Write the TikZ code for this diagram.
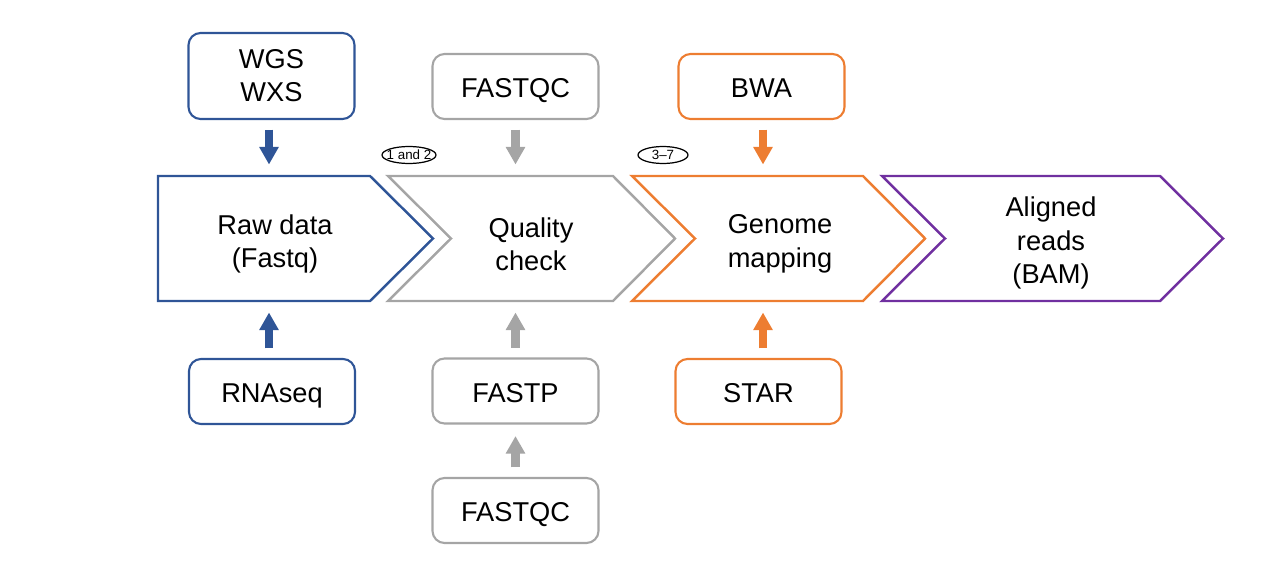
\documentclass[tikz,border=0pt]{standalone}
\usepackage{fontspec}
\setmainfont{Liberation Sans}
\usetikzlibrary{arrows.meta,positioning}

\definecolor{stepblue}{HTML}{2F5597}
\definecolor{stepgray}{HTML}{A5A5A5}
\definecolor{steporange}{HTML}{ED7D31}
\definecolor{steppurple}{HTML}{7030A0}

\tikzset{
	tool/.style={draw, rounded corners=0.24cm, line width=1.2pt, minimum width=3.32cm, minimum height=1.3cm, font=\fontsize{15.5}{18.7}\selectfont, text height=12.8pt, text depth=0pt},
	stagetext/.style={align=center, font=\fontsize{15.5}{19}\selectfont},
	stage/.style={line width=1.4pt},
	flow/.style={-{Triangle[length=10pt,width=10.5pt]}, line width=4.8pt, shorten <=0.19cm, shorten >=0.23cm},
	tag/.style={inner sep=0pt, font=\fontsize{7.6}{9}\selectfont}
}

\begin{document}
\begin{tikzpicture}[x=0.02cm, y=-0.02cm]
		\useasboundingbox (0,0) rectangle (1282,561);
		% chevrons
		\draw[stage, stepblue] (158,176) -- (370,176) -- (433,238.5) -- (370,301) -- (158,301) -- cycle;
		\draw[stage, stepgray] (388,176) -- (613,176) -- (675,238.5) -- (613,301) -- (388,301) -- (451,238.5) -- cycle;
		\draw[stage, steporange] (632,176) -- (863,176) -- (925,238.5) -- (863,301) -- (632,301) -- (695,238.5) -- cycle;
		\draw[stage, steppurple] (882,176) -- (1160,176) -- (1223,238.5) -- (1160,301) -- (882,301) -- (945,238.5) -- cycle;
		\node[stagetext] (raw) at (275,244) {Raw data\\(Fastq)};
		\node[stagetext] (qc) at (531,244) {Quality\\check};
		\node[stagetext] (map) at (780,244) {Genome\\mapping};
		\node[stagetext] (bam) at (1051,243) {Aligned\\reads\\(BAM)};
		\coordinate (rawtop) at (269,176);
		\coordinate (rawbot) at (269,301);
		\coordinate (qctop) at (515.5,176);
		\coordinate (qcbot) at (515.5,301);
		\coordinate (maptop) at (763,176);
		\coordinate (mapbot) at (763,301);

		% tools
		\node[tool, stepblue, text=black, minimum height=1.72cm, align=center, text height=, text depth=] (wgs) at (271.5,76) {WGS\\WXS};
		\node[tool, stepblue, text=black] (rnaseq) at (272,391.5) {RNAseq};
		\node[tool, stepgray, text=black] (fastqctop) at (515.5,86.5) {FASTQC};
		\node[tool, stepgray, text=black] (fastp) at (515.5,391) {FASTP};
		\node[tool, stepgray, text=black] (fastqcbot) at (515.5,510.5) {FASTQC};
		\node[tool, steporange, text=black] (bwa) at (761.5,86.5) {BWA};
		\node[tool, steporange, text=black] (star) at (758.5,391.5) {STAR};

		\draw[flow, stepblue] (wgs.south -| rawtop) -- (rawtop);
		\draw[flow, stepblue] (rnaseq.north -| rawbot) -- (rawbot);
		\draw[flow, stepgray] (fastqctop.south) -- (qctop);
		\draw[flow, stepgray] (fastp.north) -- (qcbot);
		\draw[flow, stepgray] (fastqcbot.north) -- (fastp.south);
		\draw[flow, steporange] (bwa.south -| maptop) -- (maptop);
		\draw[flow, steporange] (star.north -| mapbot) -- (mapbot);

		% step tags
		\node[tag] (tagqc) at (409,155) {1 and 2};
		\draw[line width=0.7pt] (tagqc.center) ellipse [x radius=0.54cm, y radius=0.17cm];
		\node[tag] (tagmap) at (663,155) {3--7};
		\draw[line width=0.7pt] (tagmap.center) ellipse [x radius=0.5cm, y radius=0.17cm];
\end{tikzpicture}
\end{document}
